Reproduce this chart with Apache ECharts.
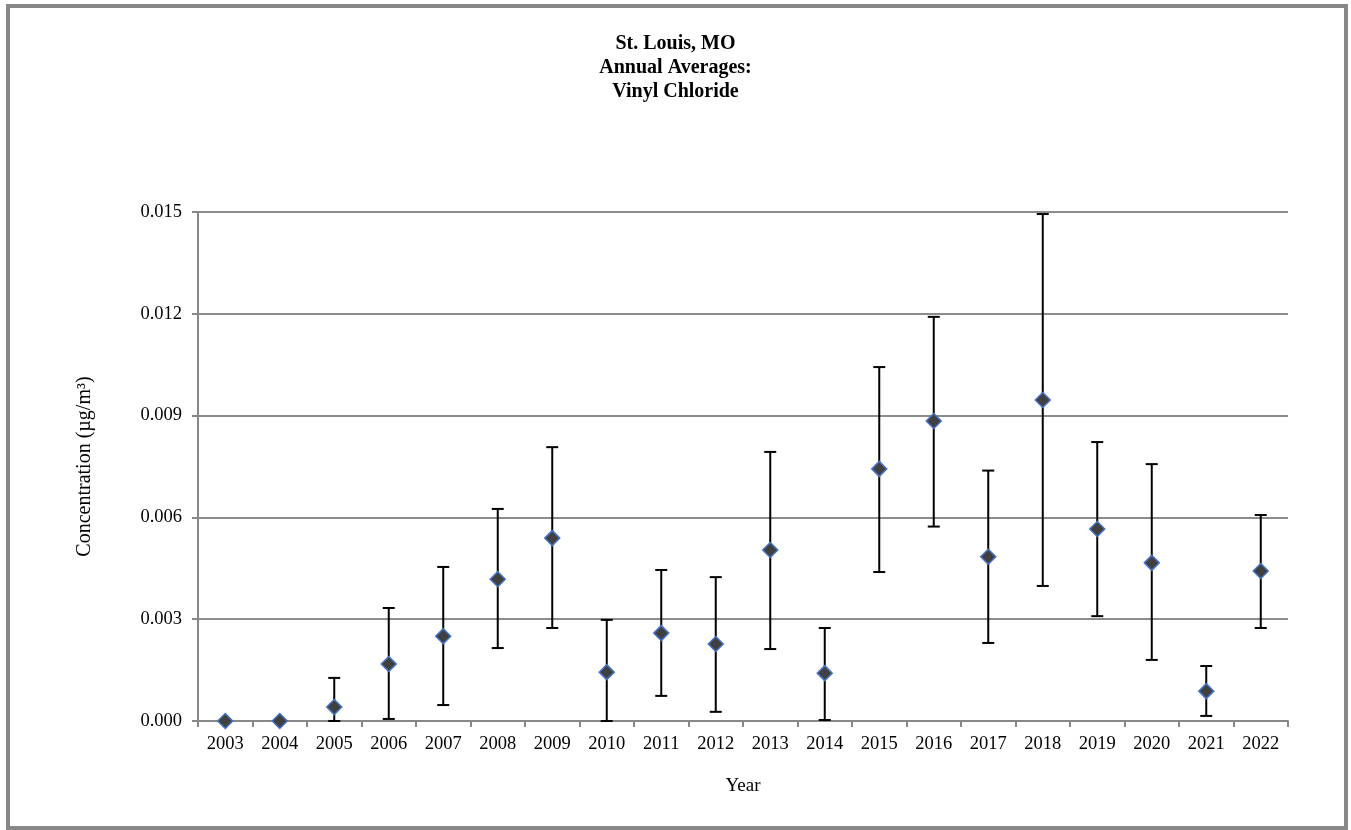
<!DOCTYPE html>
<html>
<head>
<meta charset="utf-8">
<script src="https://cdn.jsdelivr.net/npm/echarts@6/dist/echarts.min.js"></script>
<style>
html,body{margin:0;padding:0;background:#fff;}
#chart{width:1351px;height:830px;}
</style>
</head>
<body>
<div id="chart"></div>
<script>
var years = ['2003','2004','2005','2006','2007','2008','2009','2010','2011','2012','2013','2014','2015','2016','2017','2018','2019','2020','2021','2022'];
var averages = [0, 0, 0.00041, 0.00168, 0.00250, 0.00418, 0.00539, 0.00144, 0.00259, 0.00227, 0.00504, 0.00141, 0.00743, 0.00884, 0.00484, 0.00946, 0.00566, 0.00466, 0.00088, 0.00442];
var lowerBounds = [null, null, 0.0, 0.00006, 0.00047, 0.00215, 0.00274, 0.0, 0.00074, 0.00027, 0.00212, 0.00003, 0.00439, 0.00573, 0.00230, 0.00398, 0.00309, 0.00180, 0.00015, 0.00274];
var upperBounds = [null, null, 0.00127, 0.00333, 0.00454, 0.00625, 0.00807, 0.00298, 0.00445, 0.00424, 0.00793, 0.00274, 0.01043, 0.01191, 0.00738, 0.01494, 0.00822, 0.00757, 0.00162, 0.00607];
var yTicks = [0, 0.003, 0.006, 0.009, 0.012, 0.015];

var errData = [];
for (var i = 0; i < years.length; i++) {
  if (lowerBounds[i] !== null && upperBounds[i] !== null) {
    errData.push([i, lowerBounds[i], upperBounds[i]]);
  }
}

var chart = echarts.init(document.getElementById('chart'), null, {renderer: 'canvas'});
var serif = '"Liberation Serif", "Times New Roman", serif';

chart.setOption({
  animation: false,
  backgroundColor: '#fff',
  title: {
    text: 'St. Louis, MO\nAnnual Averages:\nVinyl Chloride',
    left: 'center',
    top: 27,
    textStyle: {fontFamily: serif, fontWeight: 'bold', fontSize: 20, lineHeight: 24, color: '#000'}
  },
  graphic: [{
    type: 'rect',
    shape: {x: 8, y: 6, width: 1338, height: 822},
    style: {fill: 'none', stroke: '#888', lineWidth: 4},
    silent: true,
    z: 100
  }],
  grid: {left: 198, right: 63, top: 212, bottom: 109, containLabel: false},
  xAxis: {
    type: 'category',
    data: years,
    boundaryGap: true,
    name: 'Year',
    nameLocation: 'middle',
    nameGap: 56,
    nameTextStyle: {fontFamily: serif, fontSize: 19, color: '#000'},
    axisLine: {lineStyle: {color: '#888', width: 2}},
    axisTick: {show: true, alignWithLabel: false, length: 6, lineStyle: {color: '#888', width: 2}},
    axisLabel: {fontFamily: serif, fontSize: 18.5, color: '#000', margin: 14, interval: 0}
  },
  yAxis: {
    type: 'value',
    min: yTicks[0],
    max: yTicks[yTicks.length - 1],
    interval: yTicks[1] - yTicks[0],
    name: 'Concentration (µg/m³)',
    nameLocation: 'middle',
    nameGap: 103,
    nameTextStyle: {fontFamily: serif, fontSize: 20, color: '#000'},
    axisLine: {show: true, lineStyle: {color: '#888', width: 2}},
    axisTick: {show: true, length: 6, lineStyle: {color: '#888', width: 2}},
    axisLabel: {fontFamily: serif, fontSize: 18.5, color: '#000', margin: 16,
      formatter: function (v) { return v.toFixed(3); }},
    splitLine: {show: true, lineStyle: {color: '#8c8c8c', width: 2}}
  },
  series: [{
    type: 'custom',
    data: errData,
    z: 2,
    renderItem: function (params, api) {
      var x = api.value(0);
      var lo = api.coord([x, api.value(1)]);
      var hi = api.coord([x, api.value(2)]);
      var hw = 6;
      var st = {stroke: '#000', lineWidth: 2};
      return {
        type: 'group',
        children: [
          {type: 'line', shape: {x1: lo[0], y1: lo[1], x2: hi[0], y2: hi[1]}, style: st},
          {type: 'line', shape: {x1: lo[0] - hw, y1: lo[1], x2: lo[0] + hw, y2: lo[1]}, style: st},
          {type: 'line', shape: {x1: hi[0] - hw, y1: hi[1], x2: hi[0] + hw, y2: hi[1]}, style: st}
        ]
      };
    }
  }, {
    type: 'scatter',
    data: averages,
    symbol: 'diamond',
    symbolSize: [15, 15],
    z: 5,
    itemStyle: {color: '#404040', borderColor: '#4472c4', borderWidth: 1.5, opacity: 1}
  }]
});
</script>
</body>
</html>
